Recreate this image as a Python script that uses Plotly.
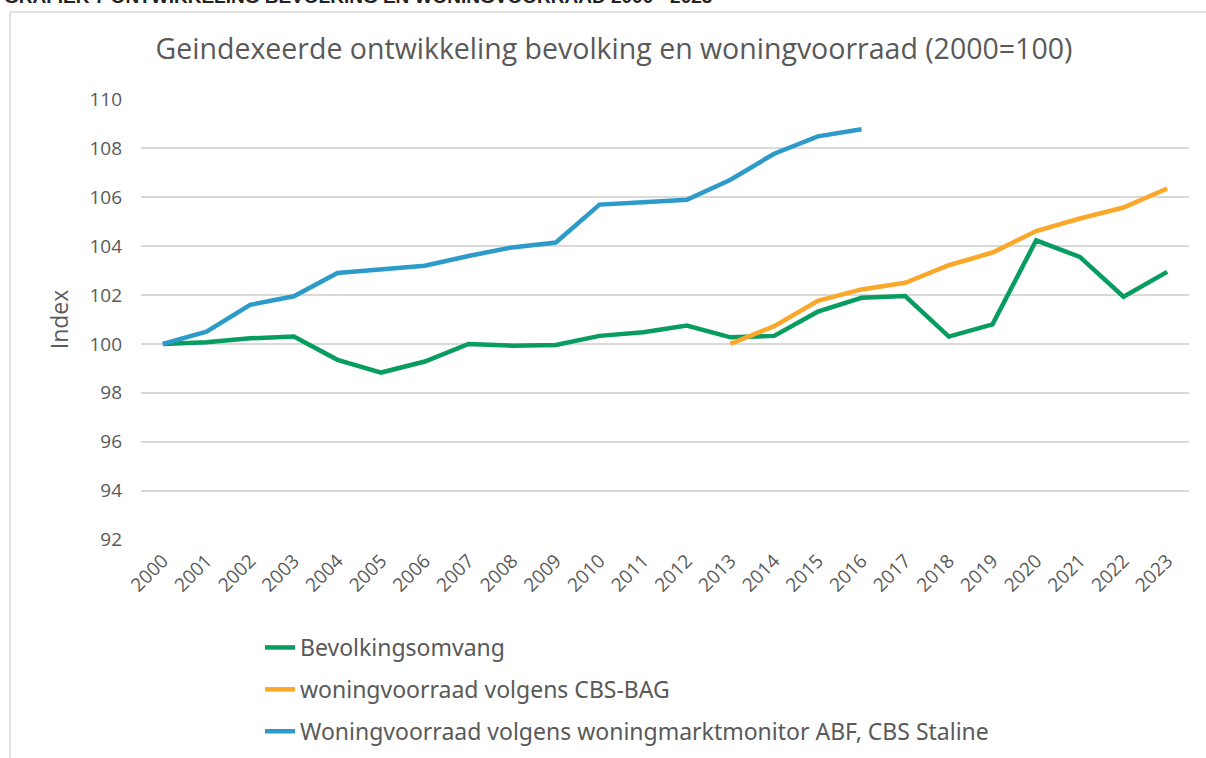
import plotly.graph_objects as go

years = [str(y) for y in range(2000, 2024)]

bevolking = [100.0, 100.07, 100.23, 100.3, 99.35, 98.83, 99.28, 100.0, 99.93, 99.96,
             100.33, 100.48, 100.75, 100.27, 100.33, 101.32, 101.89, 101.96, 100.3,
             100.8, 104.24, 103.56, 101.93, 102.95]
cbs_bag_years = years[13:]
cbs_bag = [100.0, 100.73, 101.76, 102.23, 102.5, 103.22, 103.74, 104.62, 105.13, 105.58, 106.36]
abf_years = years[:17]
abf = [100.0, 100.5, 101.6, 101.95, 102.9, 103.05, 103.2, 103.6, 103.95, 104.15,
       105.7, 105.8, 105.9, 106.72, 107.78, 108.49, 108.78]

names = ["Bevolkingsomvang", "woningvoorraad volgens CBS-BAG",
         "Woningvoorraad volgens woningmarktmonitor ABF, CBS Staline"]
colors = ["#079C60", "#F9A82A", "#2C9BCA"]
yticks = list(range(92, 111, 2))

FONT = "'Open Sans', sans-serif"
GREY = "#595959"

W, H = 1206, 758
L, R, T, B = 141, 17, 99, 218
PW, PH = W - L - R, H - T - B

fig = go.Figure()
for i, (xs, ys) in enumerate([(years, bevolking), (cbs_bag_years, cbs_bag), (abf_years, abf)]):
    fig.add_trace(go.Scatter(x=xs, y=ys, mode="lines", name=names[i], legendgroup=f"g{i}",
                             line=dict(color=colors[i], width=4.5)))

fig.update_layout(
    width=W, height=H,
    margin=dict(l=L, r=R, t=T, b=B, autoexpand=False),
    paper_bgcolor="white", plot_bgcolor="white",
    font=dict(family=FONT, color=GREY),
    title=dict(text="Geindexeerde ontwikkeling bevolking en woningvoorraad (2000=100)",
               x=614 / W, xanchor="center", y=1 - 49 / H, yanchor="middle",
               font=dict(size=28.5, color=GREY, family=FONT)),
    xaxis=dict(type="category", categoryorder="array", categoryarray=years,
               range=[-0.5, 23.5], showgrid=False, showline=False, zeroline=False,
               tickangle=-45, tickfont=dict(size=19, color=GREY), ticks="",
               ticklabelstandoff=5),
    yaxis=dict(range=[91.98, 110.02], tickvals=yticks, ticktext=[str(v) for v in yticks],
               showgrid=True, gridcolor="#D9D9D9", gridwidth=1.5, zeroline=False,
               tickfont=dict(size=19, color=GREY), ticks="", ticklen=0,
               ticklabelstandoff=18,
               title=dict(text="Index", font=dict(size=23, color=GREY), standoff=14)),
    legend=dict(orientation="v", x=(260 - L) / PW, xanchor="left",
                y=-(626 - (T + PH)) / PH, yanchor="top",
                font=dict(size=23, color=GREY, family="'Noto Sans', sans-serif"),
                tracegroupgap=9, bgcolor="rgba(0,0,0,0)"),
    showlegend=True,
)

# outer frame (chart border)
fig.add_shape(type="rect", xref="paper", yref="paper",
              x0=(10 - L) / PW, x1=(W + 10 - L) / PW,
              y0=-(H + 12 - (T + PH)) / PH, y1=((T + PH) - 12) / PH,
              line=dict(color="#D9D9D9", width=1.5), fillcolor="rgba(0,0,0,0)", layer="below")

# clipped header above the chart
fig.add_annotation(text="<b>GRAFIEK 7 ONTWIKKELING BEVOLKING EN WONINGVOORRAAD 2000 - 2023</b>",
                   xref="paper", yref="paper", x=-(L - 2) / PW, xanchor="left",
                   y=((T + PH) - 9) / PH, yanchor="bottom", showarrow=False,
                   font=dict(size=19, color="#222222", family="'Liberation Sans', Arial, sans-serif"))

fig.write_html("out.html", config={"displayModeBar": False},
               post_script="document.body.style.margin='0';")
